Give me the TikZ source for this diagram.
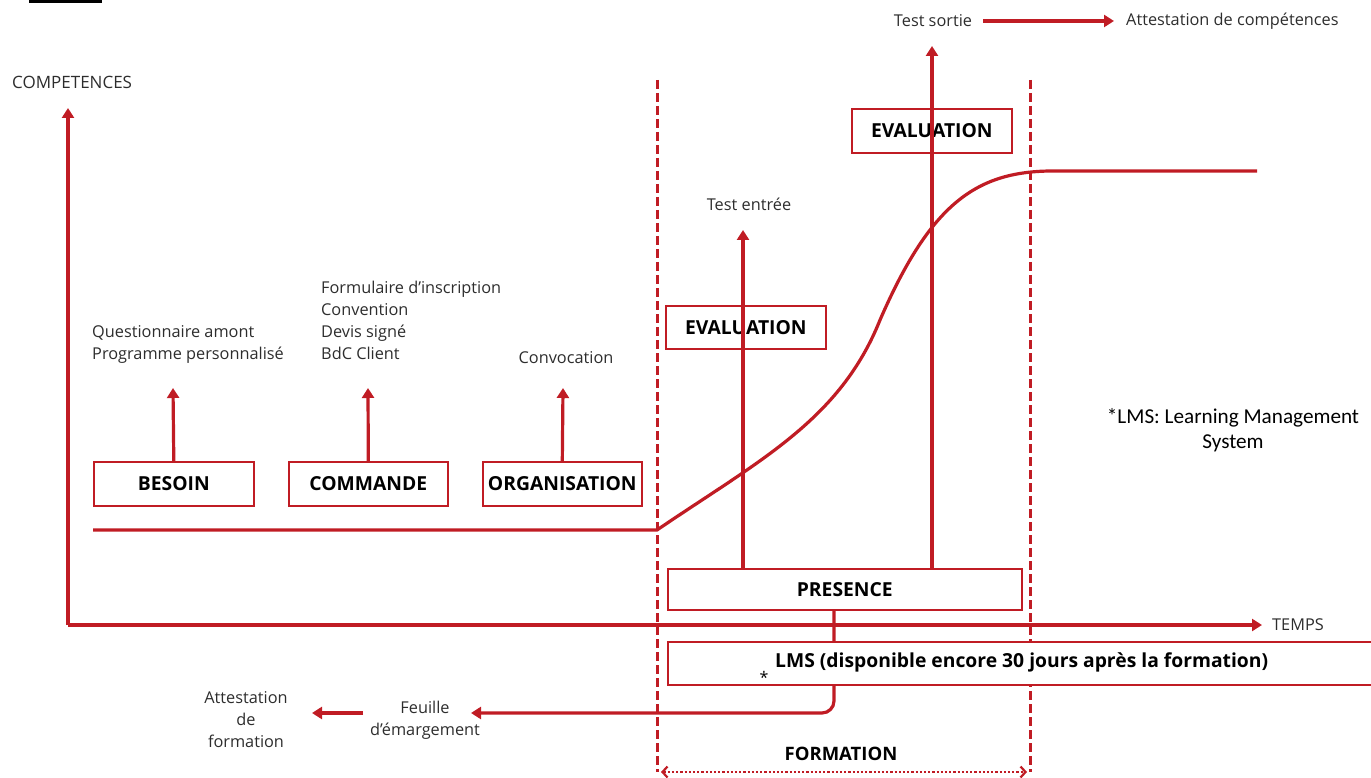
\documentclass[tikz,border=0pt]{standalone}
\usepackage{fontspec}
\setmainfont{Open Sans}
\newfontfamily\calfont{Carlito}
\usetikzlibrary{arrows.meta}
\definecolor{rd}{RGB}{192,28,36}
\definecolor{tx}{RGB}{45,45,45}
\begin{document}
\begin{tikzpicture}[x=1pt,y=-1pt,
  lbl/.style={text=tx,font=\fontsize{16.3}{22}\selectfont,inner sep=0pt},
  boxlbl/.style={draw=rd,line width=1.6pt,fill=white,text=black,font=\fontsize{19.3}{22}\selectfont\bfseries,inner sep=0pt,anchor=north west},
  redline/.style={draw=rd,line width=3.2pt},
  arr/.style={redline,-{Triangle[length=10pt,width=12pt]}},
  dashv/.style={draw=rd,line width=3pt,dash pattern=on 9pt off 4pt}]
\useasboundingbox (0,0) rectangle (1371,778);
\draw[black,line width=3pt] (29,2) -- (102,2);
% axes
\coordinate (O) at (68,625);
\coordinate (ytop) at (68,108);
\coordinate (xend) at (1262,625);
\node[lbl,anchor=west,font=\fontsize{17}{22}\selectfont] (comp) at (12,82) {COMPETENCES};
\node[lbl,anchor=west] (temps) at (1272,625) {TEMPS};
\draw[arr] (O) -- (ytop);
% dashed
\coordinate (d1t) at (657,80); \coordinate (d1b) at (657,772);
\coordinate (d2t) at (1030,80); \coordinate (d2b) at (1030,772);
\draw[dashv] (d1t) -- (d1b);
\draw[dashv] (d2t) -- (d2b);
% curve
\coordinate (c0) at (93,530);
\coordinate (c1) at (657,530);
\coordinate (c2) at (880,320);
\coordinate (c3) at (1050,171);
\coordinate (c4) at (1257,171);
\draw[redline] (c0) -- (c1) .. controls (760,460) and (840,420) .. (c2) .. controls (930,205) and (975,172) .. (c3) -- (c4);
% pre-formation boxes
\node[boxlbl,minimum width=160pt,minimum height=44pt] (besoin) at (93,461) {BESOIN};
\node[boxlbl,minimum width=159pt,minimum height=44pt] (commande) at (288,461) {COMMANDE};
\node[boxlbl,minimum width=159pt,minimum height=44pt] (orga) at (482,461) {ORGANISATION};
\coordinate (ab) at (173,388);
\coordinate (ac) at (368,388);
\coordinate (ao) at (563,388);
\draw[arr] (besoin.north) -- (ab);
\draw[arr] (commande.north) -- (ac);
\draw[arr] (orga.north) -- (ao);
\node[lbl,anchor=west,align=left] (tb) at (92,344) {Questionnaire amont\\Programme personnalisé};
\node[lbl,anchor=west,align=left] (tc) at (321,320) {Formulaire d’inscription\\Convention\\Devis signé\\BdC Client};
\node[lbl,anchor=center] (to) at (566,358) {Convocation};
% formation
\node[boxlbl,minimum width=354pt,minimum height=41pt] (pres) at (667,568) {PRESENCE};
\node[boxlbl,minimum width=160pt,minimum height=43pt] (ev1) at (665,305) {EVALUATION};
\node[boxlbl,minimum width=160pt,minimum height=44pt] (ev2) at (851,108) {EVALUATION};
\coordinate (e1b) at (743,568); \coordinate (e1t) at (743,230);
\coordinate (e2b) at (932,568); \coordinate (e2t) at (932,46);
\draw[arr] (e1b) -- (e1t);
\draw[arr] (e2b) -- (e2t);
\node[lbl] (tentree) at (749,204) {Test entrée};
\node[lbl] (tsortie) at (933,21) {Test sortie};
\node[lbl,anchor=west] (attc) at (1126,21) {Attestation de compétences};
\coordinate (ts1) at (983,21); \coordinate (ts2) at (1114,21);
\draw[arr] (ts1) -- (ts2);
% time axis
\draw[arr] (O) -- (xend);
% presence to feuille
\node[lbl,align=center] (feuille) at (425,720) {Feuille\\d’émargement};
\node[lbl,align=center] (attf) at (246,720) {Attestation\\de\\formation};
\coordinate (pb) at (834,609);
\coordinate (corner) at (834,713);
\coordinate (fe) at (471,713);
\coordinate (fa1) at (363,713); \coordinate (fa2) at (312,713);
\draw[redline,rounded corners=12pt,-{Triangle[length=10pt,width=12pt]}] (pb) -- (corner) -- (fe);
\draw[arr] (fa1) -- (fa2);
% LMS
\node[boxlbl,minimum width=720pt,minimum height=43pt] (lms) at (667,641) {};
\node[text=black,font=\fontsize{19.3}{22}\selectfont\bfseries,inner sep=0pt,anchor=west] (lmst) at (775,662) {LMS (disponible encore 30 jours après la formation)};
\node[text=black,font=\fontsize{16}{18}\selectfont,inner sep=0pt] (star) at (764,677) {*};
\node[text=black,font=\calfont\fontsize{21.2}{25}\selectfont,align=center,inner sep=0pt] (note) at (1233,430) {*LMS: Learning Management\\System};
% formation span
\node[text=black,font=\fontsize{18.5}{22}\selectfont\bfseries,inner sep=0pt] (form) at (841,754) {FORMATION};
\coordinate (fl) at (661,772); \coordinate (fr) at (1027,772);
\draw[rd,line width=2.2pt,dotted,{Straight Barb[length=5pt,width=11pt]}-{Straight Barb[length=5pt,width=11pt]}] (fl) -- (fr);
\end{tikzpicture}
\end{document}
